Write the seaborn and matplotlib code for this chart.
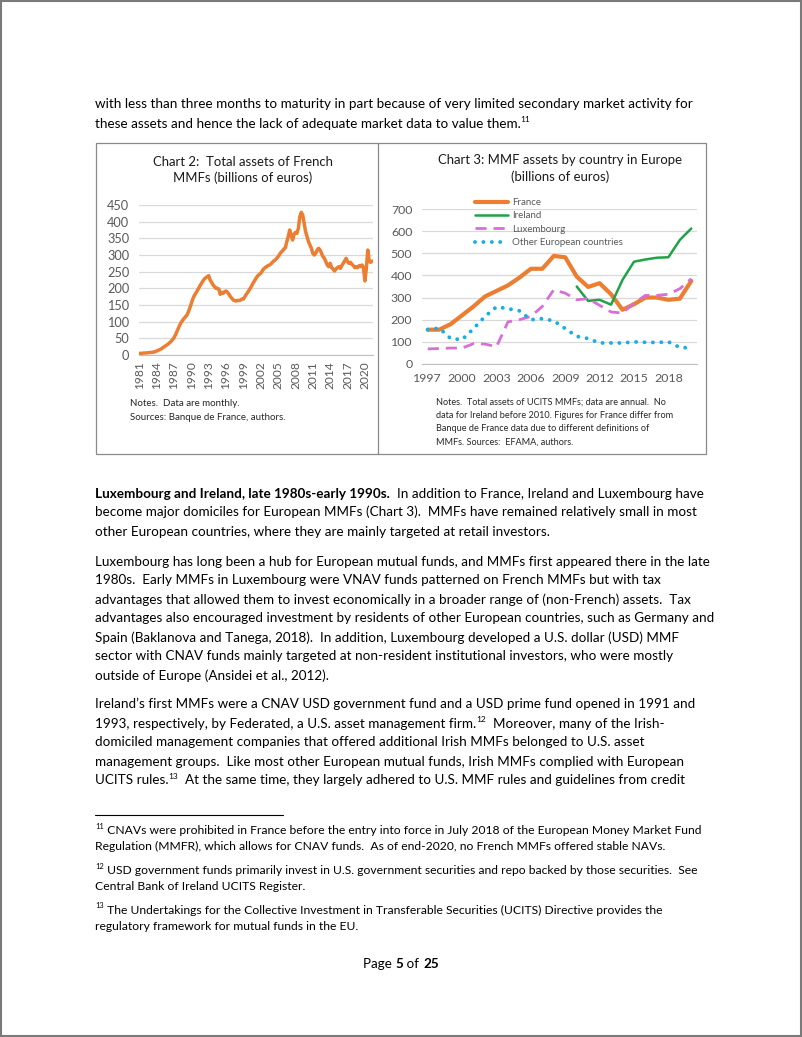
import numpy as np
import pandas as pd
import matplotlib
matplotlib.use("Agg")
import matplotlib.pyplot as plt
import seaborn as sns
from matplotlib.lines import Line2D
from matplotlib.patches import Rectangle

# ---- data ----
# Chart 2: French MMF total assets, quarterly readings from 1981Q1 (bn EUR)
fr_monthly_q = [
    5, 5, 5, 6,  6, 6, 7, 7,  8, 8, 9, 10,  12, 14, 16, 18,          # 1981-84
    21, 24, 27, 30,  33, 37, 41, 46,  52, 60, 70, 80,  90, 98, 104, 110,  # 1985-88
    115, 120, 130, 142,  155, 168, 178, 185,  192, 200, 208, 215,  222, 228, 232, 235,  # 1989-92
    238, 225, 218, 210,  205, 200, 200, 198,  182, 188, 185, 190,  192, 188, 182, 175,  # 1993-96
    170, 165, 163, 162,  164, 163, 165, 168,  168, 175, 182, 188,  195, 202, 210, 218,  # 1997-2000
    225, 232, 238, 242,  245, 252, 258, 262,  265, 268, 270, 273,  278, 282, 285, 290,  # 2001-04
    295, 302, 308, 312,  318, 322, 340, 355,  375, 360, 345, 362,  368, 365, 380, 415,  # 2005-08
    428, 420, 395, 370,  355, 340, 330, 320,  305, 300, 305, 315,  320, 315, 305, 295,  # 2009-12
    290, 280, 270, 265,  275, 262, 258, 252,  258, 262, 265, 260,  268, 275, 282, 290,  # 2013-16
    280, 275, 278, 272,  268, 262, 265, 262,  268, 265, 270, 262,  222, 260, 315, 280,  # 2017-20
    278, 282,                                                                          # 2021
]
ch2_ticks = [1981, 1984, 1987, 1990, 1993, 1996, 1999, 2002, 2005, 2008, 2011, 2014, 2017, 2020]

# Chart 3: MMF assets by country (bn EUR, annual)
years = list(range(1997, 2021))
france = [155, 155, 180, 220, 260, 305, 330, 355, 390, 430, 430, 488,
          482, 395, 348, 365, 315, 245, 270, 300, 300, 290, 295, 375]
ireland_years = list(range(2010, 2021))
ireland = [350, 285, 290, 268, 380, 462, 472, 480, 482, 560, 612]
luxembourg = [68, 70, 72, 72, 92, 90, 78, 190, 200, 215, 260, 335,
              320, 290, 295, 265, 235, 230, 275, 310, 310, 315, 340, 385]
other = [155, 162, 115, 110, 160, 215, 258, 250, 240, 200, 205, 195,
         160, 125, 115, 95, 95, 95, 100, 98, 97, 100, 75, 72]
ch3_ticks = [1997, 2000, 2003, 2006, 2009, 2012, 2015, 2018]

# ---- page text ----
lines_top = [
    (108.5, [("with less than three months to maturity in part because of very limited secondary market activity for", "n")]),
    (127.5, [("these assets and hence the lack of adequate market data to value them.", "n"), ("11", "sup")]),
]
lines_body = [
    (497.5, [("Luxembourg and Ireland, late 1980s-early 1990s.", "b"), ("  In addition to France, Ireland and Luxembourg have", "n")]),
    (516.5, [("become major domiciles for European MMFs (Chart 3).  MMFs have remained relatively small in most", "n")]),
    (535.5, [("other European countries, where they are mainly targeted at retail investors.", "n")]),
    (565.5, [("Luxembourg has long been a hub for European mutual funds, and MMFs first appeared there in the late", "n")]),
    (584.5, [("1980s.  Early MMFs in Luxembourg were VNAV funds patterned on French MMFs but with tax", "n")]),
    (603.5, [("advantages that allowed them to invest economically in a broader range of (non-French) assets.  Tax", "n")]),
    (622.5, [("advantages also encouraged investment by residents of other European countries, such as Germany and", "n")]),
    (641.5, [("Spain (Baklanova and Tanega, 2018).  In addition, Luxembourg developed a U.S. dollar (USD) MMF", "n")]),
    (660.5, [("sector with CNAV funds mainly targeted at non-resident institutional investors, who were mostly", "n")]),
    (679.5, [("outside of Europe (Ansidei et al., 2012).", "n")]),
    (708.5, [("Ireland\u2019s first MMFs were a CNAV USD government fund and a USD prime fund opened in 1991 and", "n")]),
    (727.5, [("1993, respectively, by Federated, a U.S. asset management firm.", "n"), ("12", "sup"), ("  Moreover, many of the Irish-", "n")]),
    (746.5, [("domiciled management companies that offered additional Irish MMFs belonged to U.S. asset", "n")]),
    (765.5, [("management groups.  Like most other European mutual funds, Irish MMFs complied with European", "n")]),
    (784.5, [("UCITS rules.", "n"), ("13", "sup"), ("  At the same time, they largely adhered to U.S. MMF rules and guidelines from credit", "n")]),
]
footnotes = [
    (834.5, [("11", "sup"), (" CNAVs were prohibited in France before the entry into force in July 2018 of the European Money Market Fund", "n")]),
    (850.5, [("Regulation (MMFR), which allows for CNAV funds.  As of end-2020, no French MMFs offered stable NAVs.", "n")]),
    (874.5, [("12", "sup"), (" USD government funds primarily invest in U.S. government securities and repo backed by those securities.  See", "n")]),
    (890.5, [("Central Bank of Ireland UCITS Register.", "n")]),
    (913.5, [("13", "sup"), (" The Undertakings for the Collective Investment in Transferable Securities (UCITS) Directive provides the", "n")]),
    (929.5, [("regulatory framework for mutual funds in the EU.", "n")]),
]

W, H = 802, 1037
sns.set_style("white")
plt.rcParams["font.family"] = ["Lato", "DejaVu Sans"]

fig = plt.figure(figsize=(W / 100, H / 100), dpi=100)
R = fig.canvas.get_renderer()


def fx(x):
    return x / W


def fy(y):
    return 1 - y / H


def text_w(s, size, weight="normal"):
    # advance width incl. trailing spaces (pad with a bar and subtract it)
    t = fig.text(0, 0, s + "|", fontsize=size, fontweight=weight)
    b = fig.text(0, 0, "|", fontsize=size, fontweight=weight)
    w = t.get_window_extent(renderer=R).width - b.get_window_extent(renderer=R).width
    t.remove()
    b.remove()
    return w


def fit(s, target, weight="normal"):
    return 10 * target / text_w(s, 10, weight)


def runs(x, y, parts, size, color="black"):
    for s, kind in parts:
        fs, yy, wt = size, y, "normal"
        if kind == "b":
            wt = "bold"
        if kind == "sup":
            fs = size * 0.62
            yy = y - size * 0.42 * 100 / 72
        fig.text(fx(x), fy(yy), s, fontsize=fs, fontweight=wt, va="baseline", ha="left", color=color)
        x += text_w(s, fs, wt)


body_size = fit(lines_body[3][1][0][0], 611)
foot_size = fit(footnotes[0][1][1][0], 600)

for y, parts in lines_top + lines_body:
    runs(95, y, parts, body_size)
for y, parts in footnotes:
    runs(95, y, parts, foot_size)

# page number
pn = [("Page ", "n"), ("5", "b"), (" of ", "n"), ("25", "b")]
pw = sum(text_w(s, body_size, "bold" if k == "b" else "normal") for s, k in pn)
runs(401 - pw / 2, 968.5, pn, body_size)

# footnote rule, chart frame, page border
fig.add_artist(Line2D([fx(95), fx(283)], [fy(815), fy(815)], color="black", lw=0.8))
fig.add_artist(Rectangle((fx(95.5), fy(454)), fx(706) - fx(95.5), fy(143) - fy(454),
                         fill=False, ec="#8a8a8a", lw=0.9))
fig.add_artist(Line2D([fx(378), fx(378)], [fy(143), fy(454)], color="#8a8a8a", lw=0.9))
fig.add_artist(Rectangle((0.001, 0.001), 0.998, 0.998, fill=False, ec="#7a7a7a", lw=1.5))

tick_col = "#595959"
grid_col = "#d9d9d9"
orange = "#ED7D31"

# ---- Chart 2 ----
t_size = fit("Chart 3: MMF assets by country in Europe", 244)
fig.text(fx(243), fy(165.5), "Chart 2:  Total assets of French", fontsize=t_size, ha="center", va="baseline", color="#1a1a1a")
fig.text(fx(243), fy(182), "MMFs (billions of euros)", fontsize=t_size, ha="center", va="baseline", color="#1a1a1a")

dates = pd.date_range("1981-01-01", periods=len(fr_monthly_q), freq="QS")
dec = dates.year + (dates.month - 1) / 12
ax2 = fig.add_axes([fx(139), fy(355), fx(373) - fx(139), fy(205) - fy(355)])
sns.lineplot(x=dec, y=fr_monthly_q, ax=ax2, color=orange, lw=2.5)
ax2.set_xlim(1980.95, 2021.4)
ax2.set_ylim(0, 450)
ax2.set_yticks(range(0, 451, 50))
ax2.set_xticks(ch2_ticks)
ax2.set_xticklabels([str(t) for t in ch2_ticks], rotation=90)
ax2.grid(axis="y", color=grid_col, lw=0.9)
ax2.set_axisbelow(True)
for s in ["top", "right", "left"]:
    ax2.spines[s].set_visible(False)
ax2.spines["bottom"].set_color("#bfbfbf")
ax2.tick_params(axis="y", length=0, pad=7, labelsize=9.2, labelcolor=tick_col)
ax2.tick_params(axis="x", length=3, pad=1.5, color="#bfbfbf", labelsize=8.6, labelcolor=tick_col, direction="out")
ax2.set_xlabel("")
ax2.set_ylabel("")

n_size = fit("Notes.  Data are monthly.", 110)
fig.text(fx(130), fy(406.5), "Notes.  Data are monthly.", fontsize=n_size, va="baseline")
fig.text(fx(130), fy(420.5), "Sources: Banque de France, authors.", fontsize=n_size, va="baseline")

# ---- Chart 3 ----
fig.text(fx(560), fy(164.5), "Chart 3: MMF assets by country in Europe", fontsize=t_size, ha="center", va="baseline", color="#1a1a1a")
fig.text(fx(560), fy(181), "(billions of euros)", fontsize=t_size, ha="center", va="baseline", color="#1a1a1a")

ax3 = fig.add_axes([fx(422), fy(364), fx(697) - fx(422), fy(209) - fy(364)])
sns.lineplot(x=years, y=france, ax=ax3, color=orange, lw=3.0, label="France")
sns.lineplot(x=ireland_years, y=ireland, ax=ax3, color="#1FA346", lw=1.8, label="Ireland")
sns.lineplot(x=years, y=luxembourg, ax=ax3, color="#D86ED9", lw=2.0, ls=(0, (4.0, 2.5)),
             dash_capstyle="butt", label="Luxembourg")
sns.lineplot(x=years, y=other, ax=ax3, color="#14AEE8", lw=2.8, ls=(0, (0.01, 2.15)),
             dash_capstyle="round", label="Other European countries")
ax3.set_xlim(1996.5, 2020.5)
ax3.set_ylim(0, 700)
ax3.set_yticks(range(0, 701, 100))
ax3.set_xticks(ch3_ticks)
ax3.set_xticks(np.arange(1996.5, 2021, 1), minor=True)
ax3.grid(axis="y", color=grid_col, lw=0.9)
ax3.set_axisbelow(True)
for s in ["top", "right", "left"]:
    ax3.spines[s].set_visible(False)
ax3.spines["bottom"].set_color("#bfbfbf")
ax3.tick_params(axis="y", length=0, pad=7, labelsize=8.9, labelcolor=tick_col)
ax3.tick_params(axis="x", which="major", length=0, pad=6.5, labelsize=8.9, labelcolor=tick_col)
ax3.tick_params(axis="x", which="minor", length=3.5, color="#bfbfbf", direction="out")
ax3.set_xlabel("")
ax3.set_ylabel("")

l_size = fit("Other European countries", 111)
ax3.legend(loc="upper left", bbox_to_anchor=(fx(474.5), fy(198)), bbox_transform=fig.transFigure,
           frameon=False, borderpad=0, borderaxespad=0, fontsize=l_size,
           handlelength=3.5, handletextpad=0.35, labelspacing=0.45, labelcolor=tick_col)

n3_size = fit("Notes.  Total assets of UCITS MMFs; data are annual.  No", 231)
notes3 = [
    "Notes.  Total assets of UCITS MMFs; data are annual.  No",
    "data for Ireland before 2010. Figures for France differ from",
    "Banque de France data due to different definitions of",
    "MMFs. Sources:  EFAMA, authors.",
]
for i, s in enumerate(notes3):
    fig.text(fx(436), fy(404.5 + i * 13.3), s, fontsize=n3_size, va="baseline")

fig.savefig("out.png", dpi=100)
